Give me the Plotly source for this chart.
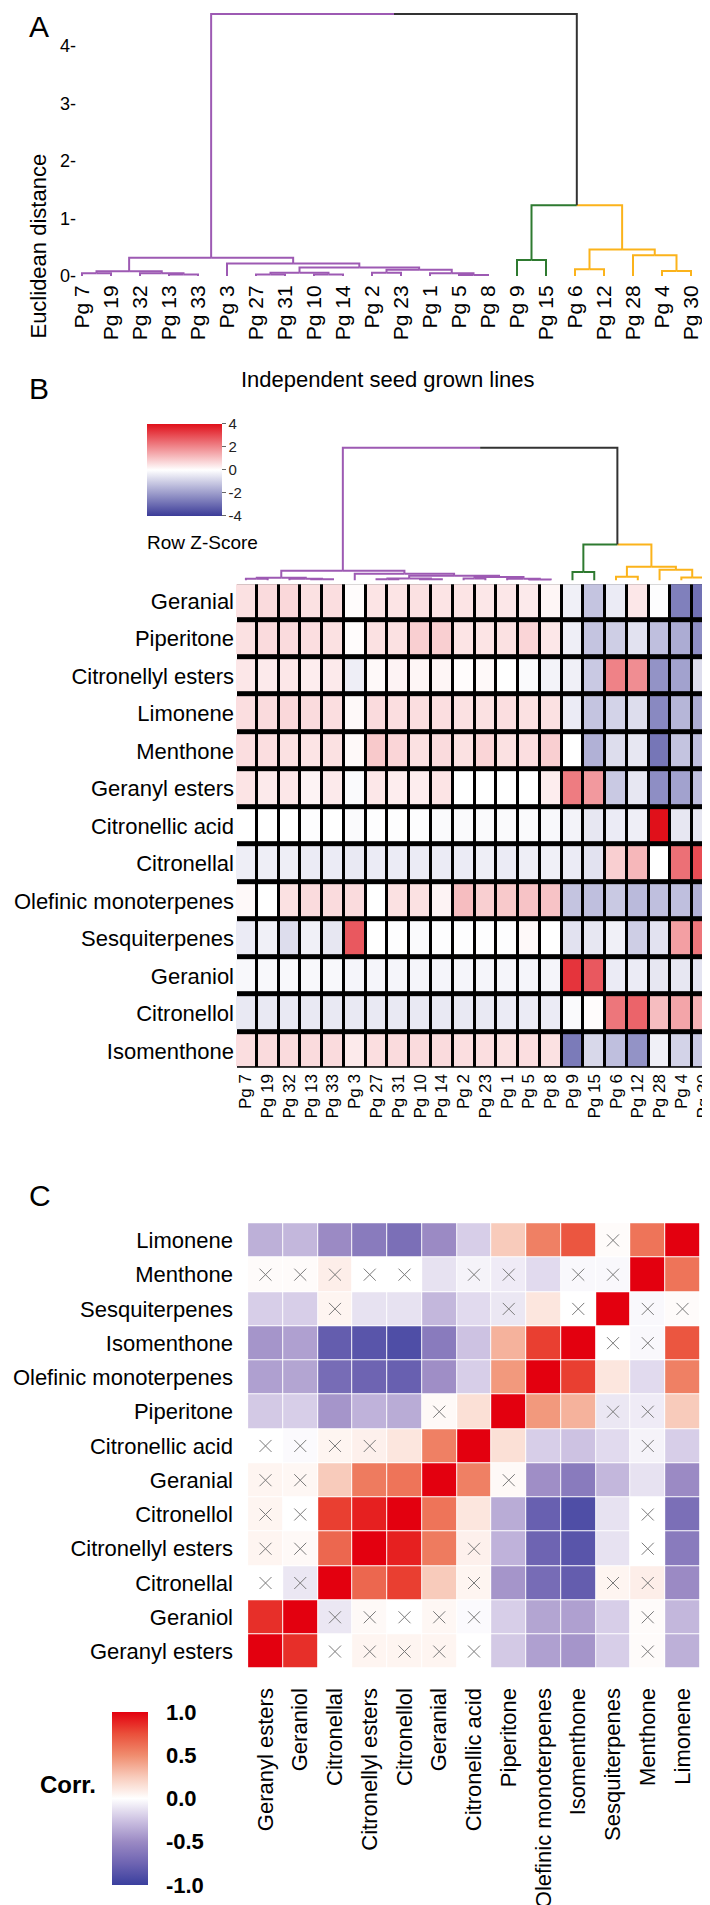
import plotly.graph_objects as go

W, H = 710, 1905
FONT = "Liberation Sans, Arial, sans-serif"

# ---- Panel A / B dendrogram ----
leaf_names = ["Pg 7", "Pg 19", "Pg 32", "Pg 13", "Pg 33", "Pg 3", "Pg 27", "Pg 31",
              "Pg 10", "Pg 14", "Pg 2", "Pg 23", "Pg 1", "Pg 5", "Pg 8", "Pg 9",
              "Pg 15", "Pg 6", "Pg 12", "Pg 28", "Pg 4", "Pg 30"]
leaf_group = ["purple", "purple", "purple", "purple", "purple", "purple", "purple", "purple",
              "purple", "purple", "purple", "purple", "purple", "purple", "purple", "green",
              "green", "orange", "orange", "orange", "orange", "orange"]
group_colors = {"purple": "#9d5ab3", "green": "#2e7a30", "orange": "#fbb31b", None: "#333333"}

# merges: leaf name or index of an earlier merge
merge_a = ["Pg 7", "Pg 13", "Pg 32", 0, "Pg 27", "Pg 10", 4, "Pg 2", "Pg 5", "Pg 1", 7,
           6, "Pg 3", 3, "Pg 9", "Pg 6", "Pg 4", "Pg 28", 15, 14, 13]
merge_b = ["Pg 19", "Pg 33", 1, 2, "Pg 31", "Pg 14", 5, "Pg 23", "Pg 8", 8, 9,
           10, 11, 12, "Pg 15", "Pg 12", "Pg 30", 16, 17, 18, 19]
merge_h = [0.05, 0.03, 0.05, 0.085, 0.03, 0.03, 0.06, 0.06, 0.02, 0.05, 0.11,
           0.15, 0.22, 0.32, 0.28, 0.12, 0.09, 0.36, 0.46, 1.23, 4.55]

# ---- Panel B heatmap (row z-scores) ----
compounds_b = ["Geranial", "Piperitone", "Citronellyl esters", "Limonene", "Menthone",
               "Geranyl esters", "Citronellic acid", "Citronellal", "Olefinic monoterpenes",
               "Sesquiterpenes", "Geraniol", "Citronellol", "Isomenthone"]
zscores = [
    [0.5, 0.6, 0.65, 0.5, 0.55, 0.05, 0.45, 0.45, 0.5, 0.45, 0.45, 0.4, 0.4, 0.35, 0.15, -0.3, -1.2, -0.4, 0.4, -0.05, -2.6, -2.9],
    [0.5, 0.6, 0.6, 0.55, 0.5, 0.05, 0.5, 0.5, 0.8, 0.8, 0.45, 0.45, 0.5, 0.7, 0.4, -0.35, -1.2, -1.0, -0.6, -1.3, -1.7, -2.3],
    [0.4, 0.35, 0.4, 0.3, 0.35, -0.35, 0.1, 0.2, 0.15, 0.15, 0.05, 0.1, 0.0, -0.1, -0.25, -0.3, -1.1, 2.1, 1.9, -2.2, -1.9, -0.7],
    [0.55, 0.6, 0.65, 0.6, 0.55, 0.1, 0.6, 0.55, 0.55, 0.55, 0.5, 0.5, 0.55, 0.5, 0.5, -0.4, -1.2, -0.9, -0.7, -2.4, -1.5, -1.7],
    [0.55, 0.55, 0.5, 0.45, 0.5, 0.1, 0.9, 0.7, 0.5, 0.6, 0.5, 0.7, 0.5, 0.55, 0.8, 0.0, -1.6, -0.7, -0.5, -2.8, -1.2, -1.3],
    [0.45, 0.35, 0.4, 0.2, 0.35, -0.1, 0.4, 0.3, 0.3, 0.45, 0.0, 0.0, 0.0, 0.0, 0.3, 2.2, 1.7, -1.1, -0.5, -2.3, -1.9, -1.3],
    [0.0, 0.0, 0.0, -0.05, 0.0, -0.1, -0.05, -0.05, -0.05, -0.1, -0.1, -0.1, -0.1, -0.1, -0.15, -0.25, -0.5, -0.4, -0.35, 4.0, -0.5, -0.5],
    [-0.35, -0.35, -0.35, -0.4, -0.4, -0.45, -0.4, -0.4, -0.4, -0.4, -0.4, -0.35, -0.4, -0.35, -0.3, -0.4, -0.6, 0.8, 1.2, 0.0, 2.4, 3.0],
    [0.1, 0.0, 0.5, 0.6, 0.6, 0.6, 0.0, 0.5, 0.5, 0.2, 1.1, 0.8, 0.9, 1.0, 1.0, -1.2, -1.3, -1.1, -1.4, -1.3, -1.3, -1.6],
    [-0.4, -0.3, -0.7, -0.3, -0.5, 2.8, 0.0, -0.05, -0.1, -0.05, -0.05, -0.05, -0.05, 0.1, 0.0, -0.6, -0.5, -0.3, -1.0, -0.6, 1.6, 2.3],
    [-0.15, -0.15, -0.15, -0.15, -0.15, -0.2, -0.2, -0.2, -0.2, -0.2, -0.2, -0.2, -0.2, -0.2, -0.2, 3.4, 2.8, -0.4, -0.4, -0.5, -0.5, -0.55],
    [-0.45, -0.45, -0.45, -0.45, -0.45, -0.45, -0.45, -0.45, -0.45, -0.45, -0.45, -0.45, -0.4, -0.4, -0.4, -0.1, 0.05, 2.3, 2.6, 1.1, 1.5, 1.3],
    [0.55, 0.6, 0.6, 0.6, 0.6, 0.35, 0.55, 0.6, 0.6, 0.6, 0.55, 0.55, 0.5, 0.55, 0.5, -2.7, -0.8, -1.3, -2.2, -0.3, -0.9, -1.1],
]
zkey_ticks = [-4, -2, 0, 2, 4]
zkey_ticktext = ["-4", "-2", "0", "2", "4"]

# ---- Panel C correlation matrix (lower triangle, in this order) ----
corr_vars = ["Geranyl esters", "Geraniol", "Citronellal", "Citronellyl esters", "Citronellol",
             "Geranial", "Citronellic acid", "Piperitone", "Olefinic monoterpenes",
             "Isomenthone", "Sesquiterpenes", "Menthone", "Limonene"]
corr_lower = [
    [1],
    [0.85, 1],
    [0.0, -0.1, 1],
    [0.05, 0.03, 0.65, 1],
    [0.05, 0.0, 0.8, 0.9, 1],
    [0.05, 0.04, 0.25, 0.57, 0.6, 1],
    [0.0, -0.02, 0.05, 0.07, 0.12, 0.55, 1],
    [-0.22, -0.2, -0.45, -0.32, -0.35, 0.03, 0.15, 1],
    [-0.4, -0.38, -0.7, -0.75, -0.78, -0.48, -0.2, 0.45, 1],
    [-0.45, -0.4, -0.8, -0.85, -0.9, -0.6, -0.25, 0.35, 0.8, 1],
    [-0.2, -0.2, 0.05, -0.12, -0.12, -0.3, -0.15, -0.1, 0.12, 0.0, 1],
    [0.02, 0.02, 0.08, 0.0, 0.0, -0.12, -0.05, -0.08, -0.15, -0.03, -0.03, 1],
    [-0.33, -0.3, -0.5, -0.6, -0.68, -0.5, -0.2, 0.25, 0.55, 0.72, 0.02, 0.6, 1],
]
nonsig_pairs = [(2, 0), (2, 1), (3, 0), (3, 1), (4, 0), (4, 1), (5, 0), (5, 1), (6, 0), (6, 1),
                (6, 2), (6, 3), (7, 5), (10, 2), (10, 7), (10, 9), (11, 0), (11, 1), (11, 2),
                (11, 3), (11, 4), (11, 6), (11, 7), (11, 9), (11, 10), (12, 10)]
corr_ticks = [-1, -0.5, 0, 0.5, 1]
corr_ticktext = ["-1.0", "-0.5", "0.0", "0.5", "1.0"]


def px_x(p):
    return p / W


def px_y(p):
    return 1 - p / H


def dendro_lines():
    """walk the merges and return polylines grouped by branch colour"""
    nodes = {}
    for i, name in enumerate(leaf_names):
        nodes[name] = (i, 0.0, leaf_group[i])
    lines = {}
    for k, (a, b, h) in enumerate(zip(merge_a, merge_b, merge_h)):
        xa, ha, ga = nodes[a]
        xb, hb, gb = nodes[b]
        xm = (xa + xb) / 2
        for x0, h0, g in ((xa, ha, ga), (xb, hb, gb)):
            xs, ys = lines.setdefault(g, ([], []))
            xs += [x0, x0, xm, None]
            ys += [h0, h, h, None]
        nodes[k] = (xm, h, ga if ga == gb else None)
    return lines


fig = go.Figure()

# dendrograms (A on x/y, B on x3/y3)
for g, (xs, ys) in dendro_lines().items():
    for xa, ya in (("x", "y"), ("x3", "y3")):
        fig.add_trace(go.Scatter(x=xs, y=ys, mode="lines", xaxis=xa, yaxis=ya,
                                 line=dict(color=group_colors[g], width=2),
                                 hoverinfo="skip", showlegend=False))

# B heatmap
fig.add_trace(go.Heatmap(
    z=zscores, x=leaf_names, y=compounds_b, xaxis="x2", yaxis="y2",
    zmin=-4, zmax=4, xgap=3, ygap=5,
    colorscale=[[0, "#3b3b98"], [0.5, "#ffffff"], [1, "#e0101a"]],
    colorbar=dict(x=px_x(139), xanchor="left", y=px_y(463), yanchor="middle",
                  len=92, lenmode="pixels", thickness=75, thicknessmode="pixels",
                  xpad=0, ypad=0, outlinewidth=0, tickvals=zkey_ticks,
                  ticktext=zkey_ticktext, ticks="outside", ticklen=4, tickcolor="#666",
                  tickfont=dict(size=15, color="#222")),
    hoverinfo="skip"))

# C heatmap
n = len(corr_vars)
corr = [[0.0] * n for _ in range(n)]
for i, row in enumerate(corr_lower):
    for j, v in enumerate(row):
        corr[i][j] = v
        corr[j][i] = v
fig.add_trace(go.Heatmap(
    z=corr, x=corr_vars, y=corr_vars, xaxis="x4", yaxis="y4",
    zmin=-1, zmax=1, xgap=1, ygap=1,
    colorscale=[[0, "#3a3f9e"], [0.125, "#6e64b2"], [0.25, "#9b8ac4"], [0.375, "#cdc2e2"],
                [0.5, "#ffffff"], [0.625, "#f8cbbb"], [0.75, "#f08c6e"], [0.875, "#ea4f3a"],
                [1, "#e3000f"]],
    colorbar=dict(x=px_x(104), xanchor="left", y=px_y(1796), yanchor="middle",
                  len=173, lenmode="pixels", thickness=36, thicknessmode="pixels",
                  xpad=0, ypad=0, outlinewidth=0, tickvals=corr_ticks,
                  ticktext=corr_ticktext, ticks="outside", ticklen=14, tickcolor="white",
                  tickfont=dict(size=22, color="black", weight="bold")),
    hoverinfo="skip"))

xs_ns, ys_ns = [], []
for i, j in nonsig_pairs:
    xs_ns += [corr_vars[j], corr_vars[i]]
    ys_ns += [corr_vars[i], corr_vars[j]]
fig.add_trace(go.Scatter(x=xs_ns, y=ys_ns, mode="markers", xaxis="x4", yaxis="y4",
                         marker=dict(symbol="x-thin", size=12,
                                     line=dict(width=1, color="#7a7a7a")),
                         hoverinfo="skip", showlegend=False))

hidden = dict(showgrid=False, zeroline=False, showline=False, showticklabels=False, ticks="")

fig.update_layout(
    width=W, height=H, margin=dict(l=0, r=0, t=0, b=0),
    paper_bgcolor="white", plot_bgcolor="white",
    font=dict(family=FONT, color="black"),
    showlegend=False,
    xaxis=dict(domain=[px_x(59.5), px_x(697.5)], range=[-0.5, 21.5],
               tickvals=list(range(len(leaf_names))), ticktext=leaf_names,
               tickangle=-90, tickfont=dict(size=21), showgrid=False, zeroline=False,
               showline=False, ticks=""),
    yaxis=dict(domain=[px_y(273), px_y(2)], range=[-0.07, 4.62],
               tickvals=[0, 1, 2, 3, 4], ticktext=["0-", "1-", "2-", "3-", "4-"],
               tickfont=dict(size=18), anchor="free", position=px_x(68),
               showgrid=False, zeroline=False, showline=False, ticks=""),
    xaxis2=dict(domain=[px_x(227), px_x(706)], anchor="y2", tickangle=-90,
                tickmode="array", tickvals=leaf_names, ticktext=leaf_names,
                tickfont=dict(size=17), showgrid=False, zeroline=False, ticks=""),
    yaxis2=dict(domain=[px_y(1065), px_y(576)], anchor="x2", autorange="reversed",
                tickmode="array", tickvals=compounds_b, ticktext=compounds_b,
                tickfont=dict(size=22), showgrid=False, zeroline=False, ticks=""),
    xaxis3=dict(domain=[px_x(227), px_x(706)], anchor="y3", range=[-0.5, 21.5], **hidden),
    yaxis3=dict(domain=[px_y(576), px_y(438)], anchor="x3", range=[-0.07, 4.66], **hidden),
    xaxis4=dict(domain=[px_x(226), px_x(706)], anchor="y4", tickangle=-90,
                tickmode="array", tickvals=corr_vars, ticktext=corr_vars,
                tickfont=dict(size=22), showgrid=False, zeroline=False, ticks="",
                categoryorder="array", categoryarray=corr_vars),
    yaxis4=dict(domain=[px_y(1680), px_y(1205)], anchor="x4",
                tickmode="array", tickvals=corr_vars, ticktext=corr_vars,
                tickfont=dict(size=22), showgrid=False, zeroline=False, ticks="",
                categoryorder="array", categoryarray=corr_vars),
)

# black separators behind the B heatmap
inset_x = 2 / (706 - 227)
inset_y = 2 / (1065 - 576)
fig.add_shape(type="rect", xref="x2 domain", yref="y2 domain",
              x0=inset_x, x1=1 - inset_x, y0=inset_y, y1=1 - inset_y,
              fillcolor="black", line=dict(width=0), layer="below")

notes = [
    dict(text="A", x=px_x(19), y=px_y(19), font=dict(size=30)),
    dict(text="B", x=px_x(19), y=px_y(382), font=dict(size=30)),
    dict(text="C", x=px_x(19), y=px_y(1191), font=dict(size=30)),
]
for a in notes:
    fig.add_annotation(xref="paper", yref="paper", xanchor="left", yanchor="middle",
                       showarrow=False, **a)
fig.add_annotation(text="Euclidean distance", xref="paper", yref="paper",
                   x=px_x(16), y=px_y(144), textangle=-90, showarrow=False,
                   font=dict(size=22))
fig.add_annotation(text="Independent seed grown lines", xref="paper", yref="paper",
                   x=px_x(380), y=px_y(358), showarrow=False, font=dict(size=22))
fig.add_annotation(text="Row Z-Score", xref="paper", yref="paper",
                   x=px_x(137), xanchor="left", y=px_y(524), showarrow=False,
                   font=dict(size=19))
fig.add_annotation(text="<b>Corr.</b>", xref="paper", yref="paper",
                   x=px_x(30), xanchor="left", y=px_y(1798), showarrow=False,
                   font=dict(size=24))

fig.write_html("out.html")
